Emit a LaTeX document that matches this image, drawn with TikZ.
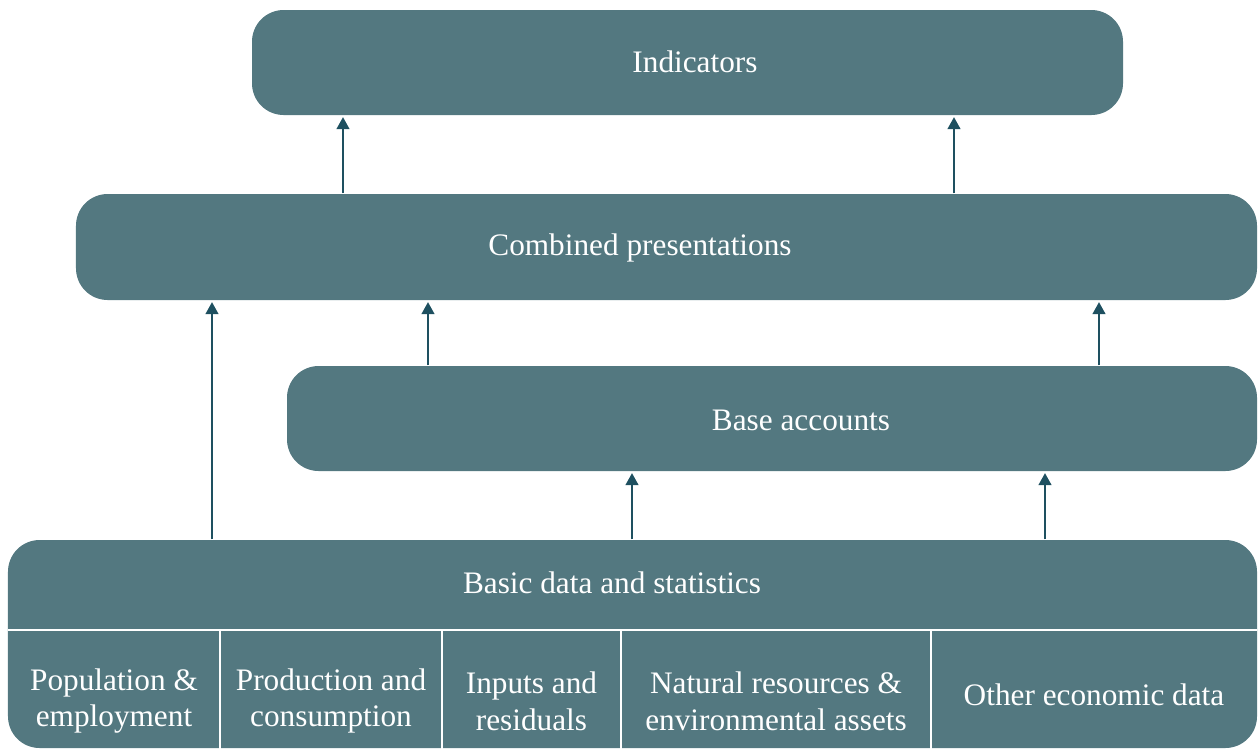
\documentclass[tikz,border=0pt]{standalone}
\usepackage{fontspec}
\setmainfont{Liberation Serif}
\usetikzlibrary{arrows.meta,positioning}

\definecolor{tealbox}{RGB}{83,120,128}
\definecolor{tealarrow}{RGB}{30,80,96}

\begin{document}
\begin{tikzpicture}[
  layer/.style={
    fill=tealbox,
    rounded corners=9pt,
    inner sep=0pt
  },
  lbl/.style={
    text=white,
    align=center,
    font=\fontsize{8.9}{10.5}\selectfont
  },
  cell/.style={
    lbl,
    inner sep=0pt,
    outer sep=0pt,
    anchor=south west,
    minimum height=1.42cm
  },
  sep/.style={draw=white, line width=0.6pt},
  arr/.style={-{Triangle[length=3.4pt, width=3.6pt]}, draw=tealarrow, line width=0.6pt, shorten >=0.4pt}
]
\useasboundingbox (0,0) rectangle (12.58,7.49);

% layers
\node[layer, minimum width=8.71cm, minimum height=1.05cm] (ind) at (6.875,6.865) {};
\node[layer, minimum width=11.81cm, minimum height=1.06cm] (comb) at (6.665,5.02) {};
\node[layer, minimum width=9.70cm, minimum height=1.05cm] (base) at (7.72,3.305) {};
\node[layer, minimum width=12.49cm, minimum height=2.08cm] (basic) at (6.325,1.05) {};

\node[lbl] (indt) at (6.95,6.87) {Indicators};
\node[lbl] (combt) at (6.40,5.01) {Combined presentations};
\node[lbl] (baset) at (8.01,3.29) {Base accounts};
\node[lbl] (basict) at (6.12,1.66) {Basic data and statistics};

% data sources
\node[cell, minimum width=2.12cm] (pop) at (0.08,-0.23) {Population \&\\employment};
\node[cell, minimum width=2.22cm] (prod) at (2.20,-0.23) {Production and\\consumption};
\node[cell, minimum width=1.79cm] (inp) at (4.42,-0.23) {Inputs and\\residuals};
\node[cell, minimum width=3.10cm] (nat) at (6.21,-0.23) {Natural resources \&\\environmental assets};
\node[cell, minimum width=3.26cm, yshift=0.06cm] (oth) at (9.31,-0.23) {Other economic data};

\draw[sep] (pop.north west) -- (oth.north east |- pop.north);
\draw[sep] (pop.north east) -- (pop.north east |- basic.south);
\draw[sep] (prod.north east) -- (prod.north east |- basic.south);
\draw[sep] (inp.north east) -- (inp.north east |- basic.south);
\draw[sep] (nat.north east) -- (nat.north east |- basic.south);

% arrow positions
\coordinate (a1) at (3.43,0);
\coordinate (a2) at (9.54,0);
\coordinate (b1) at (4.28,0);
\coordinate (b2) at (10.99,0);
\coordinate (c1) at (2.12,0);
\coordinate (d1) at (6.32,0);
\coordinate (d2) at (10.45,0);

\draw[arr] (comb.north -| a1) -- (ind.south -| a1);
\draw[arr] (comb.north -| a2) -- (ind.south -| a2);
\draw[arr] (base.north -| b1) -- (comb.south -| b1);
\draw[arr] (base.north -| b2) -- (comb.south -| b2);
\draw[arr] (basic.north -| c1) -- (comb.south -| c1);
\draw[arr] (basic.north -| d1) -- (base.south -| d1);
\draw[arr] (basic.north -| d2) -- (base.south -| d2);

\end{tikzpicture}
\end{document}
